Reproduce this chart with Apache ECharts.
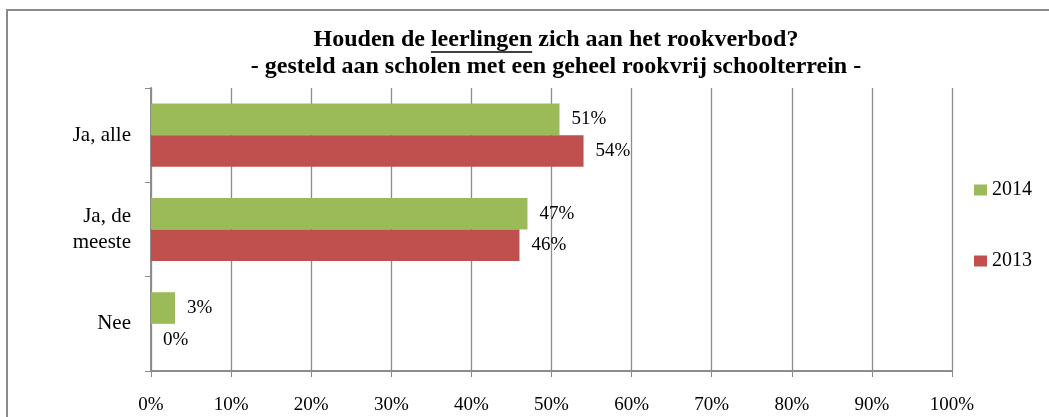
<!DOCTYPE html>
<html>
<head>
<meta charset="utf-8">
<script src="https://cdn.jsdelivr.net/npm/echarts@6/dist/echarts.min.js"></script>
<style>
  html, body { margin: 0; padding: 0; background: #fff; }
  #chart { width: 1049px; height: 417px; }
</style>
</head>
<body>
<div id="chart"></div>
<script>
// categories, top to bottom
var categories = ['Ja, alle', 'Ja, de\nmeeste', 'Nee'];
var seriesNames = ['2014', '2013'];
var values2014 = [51, 47, 3];
var values2013 = [54, 46, 0];
var xTicks = [0, 10, 20, 30, 40, 50, 60, 70, 80, 90, 100];

var titleLine1 = ['Houden de ', 'leerlingen', ' zich aan het rookverbod?'];
var titleLine2 = '- gesteld aan scholen met een geheel rookvrij schoolterrein -';

var serif = '"Liberation Serif", "DejaVu Serif", serif';
var titleSize = 24;
var titleX = 556;

// measure the title so the underline sits under "leerlingen"
function textWidth(str, font) {
  var c = document.createElement('canvas').getContext('2d');
  c.font = font;
  return c.measureText(str).width;
}
var tFont = 'bold ' + titleSize + 'px ' + serif;
var fullW = textWidth(titleLine1.join(''), tFont);
var preW = textWidth(titleLine1[0], tFont);
var wordW = textWidth(titleLine1[1], tFont);
var ulX = titleX - fullW / 2 + preW;

var gridColor = '#8c8c8c';
var labelStyle = {
  show: true,
  position: 'right',
  distance: 12,
  formatter: '{c}%',
  fontFamily: serif,
  fontSize: 19,
  color: '#000'
};

var chart = echarts.init(document.getElementById('chart'));
var option = {
  animation: false,
  backgroundColor: '#fff',
  title: [{
    text: titleLine1.join('') + '\n' + titleLine2,
    left: titleX,
    top: 26,
    padding: 0,
    textAlign: 'center',
    textStyle: {
      fontFamily: serif,
      fontWeight: 'bold',
      fontSize: titleSize,
      color: '#000',
      lineHeight: 27
    }
  }],
  graphic: [
    {
      type: 'rect',
      shape: { x: 7, y: 10, width: 1100, height: 500 },
      style: { fill: 'none', stroke: '#8a8a8a', lineWidth: 2 },
      silent: true
    },
    {
      type: 'line',
      shape: { x1: ulX, y1: 52, x2: ulX + wordW, y2: 52 },
      style: { stroke: '#000', lineWidth: 1.5 },
      silent: true
    }
  ],
  legend: {
    orient: 'vertical',
    left: 969,
    top: 175,
    itemWidth: 13,
    itemHeight: 11,
    itemGap: 51,
    icon: 'rect',
    data: seriesNames,
    textStyle: { fontFamily: serif, fontSize: 20, color: '#000' }
  },
  grid: { left: 151, right: 97, top: 88, bottom: 46, containLabel: false },
  xAxis: {
    type: 'value',
    min: 0,
    max: 100,
    interval: 10,
    axisLine: { show: true, lineStyle: { color: gridColor, width: 2 } },
    axisTick: { show: true, length: 6, lineStyle: { color: gridColor } },
    splitLine: { show: true, lineStyle: { color: gridColor, width: 1.3 } },
    axisLabel: {
      margin: 25,
      fontFamily: serif,
      fontSize: 19,
      color: '#000',
      formatter: function (v) { return xTicks.indexOf(v) >= 0 ? v + '%' : ''; }
    }
  },
  yAxis: {
    type: 'category',
    inverse: true,
    data: categories,
    axisLine: { show: true, lineStyle: { color: gridColor, width: 2 } },
    axisTick: { show: true, length: 6, lineStyle: { color: gridColor } },
    axisLabel: {
      margin: 20,
      fontFamily: serif,
      fontSize: 21,
      lineHeight: 26,
      color: '#000',
      align: 'right'
    }
  },
  series: [
    {
      name: seriesNames[0],
      type: 'bar',
      data: values2014,
      barGap: '0%',
      barCategoryGap: '33%',
      itemStyle: { color: '#9bbb59' },
      label: labelStyle
    },
    {
      name: seriesNames[1],
      type: 'bar',
      data: values2013,
      barGap: '0%',
      barCategoryGap: '33%',
      itemStyle: { color: '#c0504d' },
      label: labelStyle
    }
  ]
};
chart.setOption(option);
</script>
</body>
</html>
